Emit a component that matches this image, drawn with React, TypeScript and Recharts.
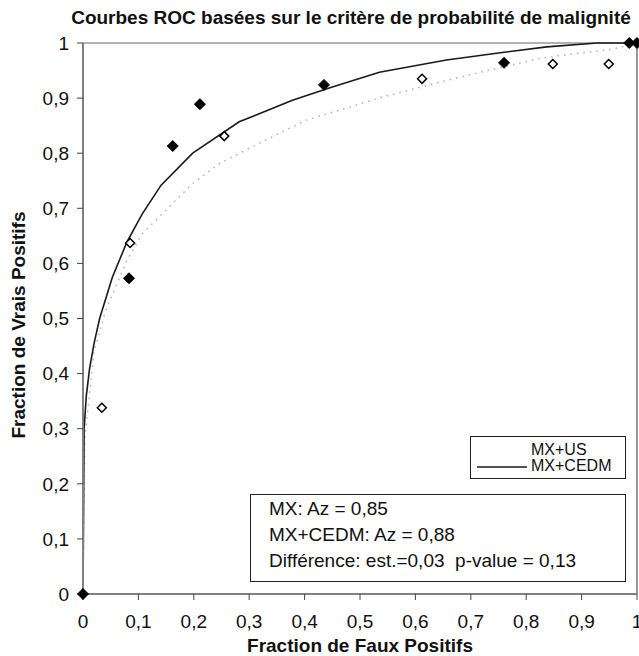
import {
  ComposedChart,
  Legend,
  Line,
  ReferenceLine,
  Scatter,
  XAxis,
  YAxis,
} from "recharts";

const FONT = '"Liberation Sans", Arial, sans-serif';

const xTicks = [0, 0.1, 0.2, 0.3, 0.4, 0.5, 0.6, 0.7, 0.8, 0.9, 1];
const yTicks = [0, 0.1, 0.2, 0.3, 0.4, 0.5, 0.6, 0.7, 0.8, 0.9, 1];

// observed points (filled diamonds)
const filledX = [0, 0.083, 0.162, 0.211, 0.435, 0.76, 0.986, 1];
const filledY = [0, 0.573, 0.813, 0.889, 0.924, 0.964, 1, 1];

// observed points (open diamonds)
const openX = [0.034, 0.085, 0.255, 0.612, 0.848, 0.949];
const openY = [0.338, 0.637, 0.831, 0.935, 0.962, 0.962];

// fitted curve, solid (MX+CEDM)
const solidX = [0, 0.002, 0.006, 0.012, 0.02, 0.03, 0.053, 0.079, 0.107, 0.141, 0.198, 0.282, 0.378, 0.45, 0.535, 0.656, 0.75, 0.837, 0.928, 1];
const solidY = [0, 0.3, 0.36, 0.41, 0.455, 0.5, 0.575, 0.638, 0.69, 0.742, 0.8, 0.857, 0.896, 0.92, 0.947, 0.969, 0.982, 0.993, 1, 1];

// fitted curve, dotted (MX+US)
const dottedX = [0, 0.003, 0.02, 0.041, 0.079, 0.107, 0.155, 0.198, 0.246, 0.318, 0.403, 0.541, 0.644, 0.734, 0.825, 0.884, 0.957, 1];
const dottedY = [0, 0.28, 0.44, 0.515, 0.605, 0.654, 0.702, 0.745, 0.781, 0.818, 0.86, 0.902, 0.929, 0.951, 0.972, 0.98, 0.989, 1];

const legendNames = ["MX+US", "MX+CEDM"];
const statLines = [
  "MX: Az = 0,85",
  "MX+CEDM: Az = 0,88",
  "Différence: est.=0,03  p-value = 0,13",
];

const zip = (xs: number[], ys: number[]) => xs.map((x, i) => ({ x, y: ys[i] }));

const filledData = zip(filledX, filledY);
const openData = zip(openX, openY);
const solidData = zip(solidX, solidY);
const dottedData = zip(dottedX, dottedY);

const comma = (v: number) => String(v).replace(".", ",");

function Diamond(props: any) {
  const { cx, cy, filled } = props;
  const r = filled ? 5.5 : 4.5;
  const d = `M${cx},${cy - r}L${cx + r},${cy}L${cx},${cy + r}L${cx - r},${cy}Z`;
  return (
    <path
      d={d}
      fill={filled ? "#000" : "#fff"}
      stroke="#000"
      strokeWidth={filled ? 1 : 1.5}
    />
  );
}

function LegendBox({ payload }: any) {
  const entries = payload || [];
  return (
    <div
      style={{
        border: "1.5px solid #222",
        background: "#fff",
        padding: "5px 0 2px 0",
        fontFamily: FONT,
        fontSize: 16,
        lineHeight: "16px",
        color: "#111",
        boxSizing: "border-box",
        width: 156,
        height: 43,
      }}
    >
      {legendNames.map((name) => {
        const entry = entries.find((e: any) => e.value === name);
        const solid = entry && !entry.payload?.strokeDasharray;
        return (
          <div key={name} style={{ display: "flex", alignItems: "center", height: 16 }}>
            <svg width={60} height={16} style={{ flex: "none" }}>
              {solid && (
                <line x1={6} y1={9} x2={56} y2={9} stroke={entry.color || "#111"} strokeWidth={1.5} />
              )}
            </svg>
            <span>{name}</span>
          </div>
        );
      })}
    </div>
  );
}

const yLabel = () => {
  const cx = 25;
  const cy = 325;
  return (
    <text
      x={cx}
      y={cy}
      transform={`rotate(-90 ${cx} ${cy})`}
      textAnchor="middle"
      fontFamily={FONT}
      fontWeight="bold"
      fontSize={19}
      fill="#111"
    >
      Fraction de Vrais Positifs
    </text>
  );
};

const xLabel = (props: any) => {
  const vb = props.viewBox || { x: 83, width: 554, y: 594 };
  return (
    <text
      x={vb.x + vb.width / 2}
      y={652}
      textAnchor="middle"
      fontFamily={FONT}
      fontWeight="bold"
      fontSize={19}
      fill="#111"
    >
      Fraction de Faux Positifs
    </text>
  );
};

export default function App() {
  const tickStyle = { fontSize: 19, fill: "#111", fontFamily: FONT };
  return (
    <div
      style={{
        position: "absolute",
        left: 0,
        top: 0,
        width: 639,
        height: 656,
        background: "#fff",
        overflow: "hidden",
      }}
    >
      <div
        style={{
          position: "absolute",
          left: 0,
          top: 7,
          width: 702,
          textAlign: "center",
          fontFamily: FONT,
          fontWeight: "bold",
          fontSize: 19,
          lineHeight: "22px",
          color: "#111",
          whiteSpace: "nowrap",
        }}
      >
        Courbes ROC basées sur le critère de probabilité de malignité
      </div>
      <ComposedChart
        width={639}
        height={656}
        margin={{ top: 43, right: 2, bottom: 0, left: 0 }}
      >
        <XAxis
          type="number"
          dataKey="x"
          domain={[0, 1]}
          ticks={xTicks}
          interval={0}
          tickFormatter={comma}
          height={62}
          tickSize={6}
          tickMargin={15}
          tick={tickStyle}
          axisLine={{ stroke: "#808080", strokeWidth: 2 }}
          tickLine={{ stroke: "#444" }}
          label={xLabel}
        />
        <YAxis
          type="number"
          dataKey="y"
          domain={[0, 1]}
          ticks={yTicks}
          interval={0}
          tickFormatter={comma}
          width={83}
          tickSize={6}
          tickMargin={8}
          tick={tickStyle}
          axisLine={{ stroke: "#808080", strokeWidth: 2 }}
          tickLine={{ stroke: "#444" }}
          label={yLabel}
        />
        <ReferenceLine y={1} stroke="#999" strokeWidth={1.5} />
        <ReferenceLine x={1} stroke="#999" strokeWidth={2} />
        <Legend
          layout="horizontal"
          verticalAlign="middle"
          align="center"
          content={LegendBox}
          wrapperStyle={{ position: "absolute", left: 470, top: 436, width: 156, height: 43 }}
        />
        <Line
          name="MX+US"
          data={dottedData}
          dataKey="y"
          type="linear"
          stroke="#b0b0b0"
          strokeWidth={1.5}
          strokeDasharray="1.5 5"
          dot={false}
          activeDot={false}
          isAnimationActive={false}
        />
        <Line
          name="MX+CEDM"
          data={solidData}
          dataKey="y"
          type="linear"
          stroke="#1a1a1a"
          strokeWidth={1.6}
          dot={false}
          activeDot={false}
          isAnimationActive={false}
        />
        <Scatter
          name="open"
          data={openData}
          dataKey="y"
          legendType="none"
          shape={(p: any) => <Diamond {...p} filled={false} />}
          isAnimationActive={false}
        />
        <Scatter
          name="filled"
          data={filledData}
          dataKey="y"
          legendType="none"
          shape={(p: any) => <Diamond {...p} filled={true} />}
          isAnimationActive={false}
        />
      </ComposedChart>
      <div
        style={{
          position: "absolute",
          left: 250,
          top: 494,
          width: 376,
          height: 88,
          boxSizing: "border-box",
          border: "1.5px solid #222",
          background: "#fff",
          padding: "1px 0 0 18px",
          fontFamily: FONT,
          fontSize: 19,
          lineHeight: "26px",
          color: "#111",
          whiteSpace: "pre",
        }}
      >
        {statLines.map((s) => (
          <div key={s}>{s}</div>
        ))}
      </div>
    </div>
  );
}
